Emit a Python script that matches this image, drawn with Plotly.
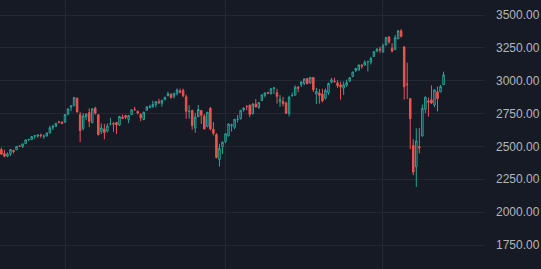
import pandas as pd
import plotly.graph_objects as go

# Weekly bars, first bar week of 2017-08-07
start_week = "2017-08-07"

opens = [
    # 2017
    2477.1, 2445.3, 2425.5, 2442.7, 2470.4, 2474.5, 2502.5, 2499.4, 2521.2, 2551.4,
    2553.4, 2578.1, 2577.8, 2587.5, 2576.5, 2579.5, 2602.7, 2645.1, 2652.2, 2685.9, 2684.2,
    # 2018
    2683.7, 2745.6, 2799.0, 2809.2, 2867.2, 2741.1, 2636.8, 2723.0, 2757.4, 2681.1,
    2790.5, 2741.4, 2613.3, 2633.5, 2617.2, 2670.1, 2675.4, 2682.1, 2662.9, 2722.7,
    2735.4, 2705.1, 2741.7, 2780.2, 2765.8, 2742.9, 2705.0, 2775.6, 2797.4, 2799.2,
    2819.0, 2840.3, 2827.9, 2853.9, 2884.7, 2898.4, 2881.4, 2903.8, 2921.8, 2926.3,
    2877.5, 2763.8, 2773.9, 2640.7, 2726.4, 2773.9, 2730.7, 2650.0, 2790.5, 2630.9,
    2590.8, 2400.6, 2498.9,
    # 2019
    2535.6, 2580.3, 2657.9, 2644.9, 2706.1, 2712.4, 2779.1, 2804.4, 2814.4, 2747.6,
    2822.6, 2796.0, 2848.6, 2888.3, 2908.3, 2898.8, 2940.6, 2908.9, 2840.2, 2841.9,
    2830.0, 2751.5, 2885.8, 2889.8, 2951.4, 2971.4, 2979.8, 3017.8, 2981.9, 3024.5,
    2898.1, 2907.1, 2898.8, 2866.7, 2909.0, 2988.4, 2996.4, 2983.5, 2967.1, 2944.2,
    2965.8, 2996.5, 3032.1, 3079.0, 3080.3, 3117.9, 3117.4, 3143.9, 3141.9, 3183.6,
    3223.3, 3240.1,
    # 2020
    3217.6, 3271.1, 3333.1, 3247.2, 3235.7, 3318.3, 3378.1, 3257.6, 2974.3, 2863.9,
    2508.6, 2344.4, 2498.1, 2578.3, 2782.5, 2845.6, 2854.7, 2815.0, 2915.5, 2913.9,
    2970.0,
]
highs = [
    2490.9, 2474.9, 2454.8, 2480.4, 2472.0, 2500.2, 2508.9, 2519.4, 2552.5, 2557.6,
    2575.4, 2583.0, 2588.4, 2597.0, 2590.1, 2604.2, 2657.7, 2665.2, 2679.6, 2695.0, 2692.1,
    2743.2, 2787.9, 2810.3, 2872.9, 2870.6, 2763.4, 2754.4, 2747.8, 2789.2, 2786.6,
    2801.9, 2741.4, 2674.8, 2672.1, 2674.7, 2717.5, 2683.6, 2682.9, 2732.9, 2742.1,
    2739.1, 2737.4, 2779.9, 2801.9, 2775.0, 2754.6, 2764.4, 2804.5, 2816.8, 2848.0,
    2845.2, 2863.4, 2855.6, 2876.2, 2916.5, 2900.2, 2906.3, 2940.9, 2939.9, 2939.9,
    2894.8, 2813.5, 2778.9, 2756.0, 2815.2, 2776.0, 2746.8, 2760.9, 2800.2, 2685.4,
    2601.1, 2520.3, 2538.1,
    2597.8, 2675.5, 2672.4, 2708.0, 2739.0, 2775.7, 2797.2, 2814.0, 2816.9, 2830.7,
    2860.3, 2836.0, 2893.4, 2910.5, 2916.1, 2940.0, 2949.5, 2937.3, 2892.2, 2876.9,
    2840.5, 2885.0, 2910.6, 2964.2, 2959.0, 2995.8, 3017.8, 3017.8, 3028.0, 3029.0,
    2945.5, 2937.0, 2939.1, 2940.4, 2985.9, 3021.0, 3022.7, 3002.4, 2992.5, 2993.3,
    3008.3, 3027.4, 3066.9, 3097.8, 3120.5, 3127.6, 3154.3, 3150.6, 3182.7, 3225.6,
    3247.9, 3258.1,
    3283.0, 3329.9, 3337.8, 3285.9, 3348.0, 3385.1, 3393.5, 3259.8, 3136.7, 2863.9,
    2553.9, 2637.0, 2641.4, 2818.6, 2879.2, 2871.8, 2964.2, 2934.0, 2954.9, 2968.1,
    3068.7,
]
lows = [
    2437.8, 2417.4, 2417.4, 2428.2, 2446.6, 2474.5, 2496.7, 2488.0, 2520.4, 2542.7,
    2547.9, 2557.4, 2566.2, 2566.3, 2557.5, 2575.5, 2600.0, 2624.8, 2651.4, 2676.1, 2673.6,
    2682.4, 2736.1, 2768.6, 2808.1, 2760.0, 2532.7, 2622.4, 2699.4, 2647.3, 2675.8,
    2742.2, 2585.9, 2593.8, 2553.8, 2606.0, 2660.0, 2612.2, 2594.6, 2655.2, 2707.4,
    2707.4, 2676.8, 2741.7, 2771.4, 2742.9, 2692.0, 2699.0, 2770.0, 2789.2, 2799.2,
    2796.3, 2821.9, 2802.5, 2853.9, 2884.7, 2864.1, 2864.1, 2886.9, 2903.3, 2874.3,
    2710.5, 2710.7, 2627.9, 2603.5, 2722.0, 2670.7, 2631.1, 2650.0, 2621.5, 2583.2,
    2408.6, 2346.6, 2444.0,
    2524.6, 2577.5, 2613.1, 2631.1, 2681.8, 2703.7, 2764.1, 2775.1, 2722.3, 2746.1,
    2798.8, 2785.7, 2848.6, 2873.3, 2898.0, 2898.8, 2900.5, 2825.4, 2801.4, 2805.5,
    2750.5, 2728.8, 2879.4, 2887.3, 2913.0, 2952.2, 2966.4, 2975.9, 2976.6, 2914.1,
    2822.1, 2825.7, 2835.0, 2856.0, 2891.8, 2979.4, 2988.5, 2945.5, 2855.9, 2892.7,
    2952.9, 2991.3, 3027.4, 3065.6, 3078.3, 3091.4, 3117.4, 3070.3, 3123.2, 3183.6,
    3223.3, 3212.0,
    3214.6, 3268.4, 3281.5, 3214.7, 3235.7, 3317.8, 3328.5, 2855.8, 2860.3, 2478.9,
    2280.5, 2191.9, 2447.5, 2578.3, 2753.4, 2727.1, 2822.6, 2797.9, 2766.6, 2913.9,
    2970.0,
]
closes = [
    2441.3, 2425.6, 2443.1, 2476.6, 2461.4, 2500.2, 2502.2, 2519.4, 2549.3, 2553.2,
    2575.2, 2581.1, 2587.8, 2582.3, 2578.9, 2602.4, 2642.2, 2651.5, 2675.8, 2683.3, 2673.6,
    2743.2, 2786.2, 2810.3, 2872.9, 2762.1, 2619.6, 2732.2, 2747.3, 2691.3, 2786.6,
    2752.0, 2588.3, 2640.9, 2604.5, 2656.3, 2670.1, 2669.9, 2663.4, 2727.7, 2713.0,
    2721.3, 2734.6, 2779.0, 2779.7, 2754.9, 2718.4, 2759.8, 2801.3, 2801.8, 2818.8,
    2840.4, 2833.3, 2850.1, 2874.7, 2901.5, 2871.7, 2905.0, 2929.7, 2914.0, 2885.6,
    2767.1, 2767.8, 2658.7, 2723.1, 2781.0, 2736.3, 2632.6, 2760.2, 2633.1, 2600.0,
    2416.6, 2485.7, 2531.9,
    2596.3, 2670.7, 2664.8, 2706.5, 2707.9, 2775.6, 2792.7, 2803.7, 2743.1, 2822.5,
    2800.7, 2834.4, 2892.7, 2907.4, 2905.0, 2939.9, 2945.6, 2881.4, 2859.5, 2826.1,
    2752.1, 2873.3, 2887.0, 2950.5, 2941.8, 2990.4, 3013.8, 2976.6, 3025.9, 2932.1,
    2918.7, 2888.7, 2847.1, 2926.5, 2978.7, 3007.4, 2992.1, 2961.8, 2952.0, 2970.3,
    2986.2, 3022.6, 3066.9, 3093.1, 3120.5, 3110.3, 3141.0, 3145.9, 3168.8, 3221.2,
    3240.0, 3234.9,
    3265.4, 3329.6, 3295.5, 3225.5, 3327.7, 3380.2, 3337.8, 2954.2, 2972.4, 2711.0,
    2304.9, 2541.5, 2488.7, 2789.8, 2874.6, 2836.7, 2830.7, 2929.8, 2863.7, 2955.5,
    3044.3,
]

price_ticks = [1750, 2000, 2250, 2500, 2750, 3000, 3250, 3500]
price_tick_labels = [f"{v:.2f}" for v in price_ticks]
year_marks = ["2018-01-01", "2019-01-07", "2020-01-06"]

dates = pd.date_range(start_week, periods=len(opens), freq="7D")

BG = "#161a25"
GRID = "#242833"
UP = "#26a69a"
DOWN = "#ef5350"

fig = go.Figure(
    go.Candlestick(
        x=dates, open=opens, high=highs, low=lows, close=closes,
        increasing=dict(line=dict(color=UP, width=1), fillcolor="rgba(0,0,0,0)"),
        decreasing=dict(line=dict(color=DOWN, width=1), fillcolor=DOWN),
        whiskerwidth=0,
        hoverinfo="skip",
    )
)

fig.update_layout(
    width=541, height=269,
    margin=dict(l=0, r=56, t=0, b=0),
    paper_bgcolor=BG, plot_bgcolor=BG,
    showlegend=False,
    boxgap=0.3,
    xaxis=dict(
        type="date",
        range=["2017-08-03 18:00", "2020-08-28 19:00"],
        rangeslider=dict(visible=False),
        tickvals=year_marks,
        showticklabels=False,
        showgrid=True, gridcolor=GRID, gridwidth=1,
        zeroline=False, showline=False, ticks="",
    ),
    yaxis=dict(
        side="right",
        range=[1567.4, 3614.1],
        tickvals=price_ticks,
        ticktext=price_tick_labels,
        showgrid=True, gridcolor=GRID, gridwidth=1,
        zeroline=False, showline=False, ticks="",
        ticklabelstandoff=10,
        tickfont=dict(family="Liberation Sans, Arial, sans-serif", size=12, color="#b2b5be"),
    ),
)

fig.write_html("out.html")
